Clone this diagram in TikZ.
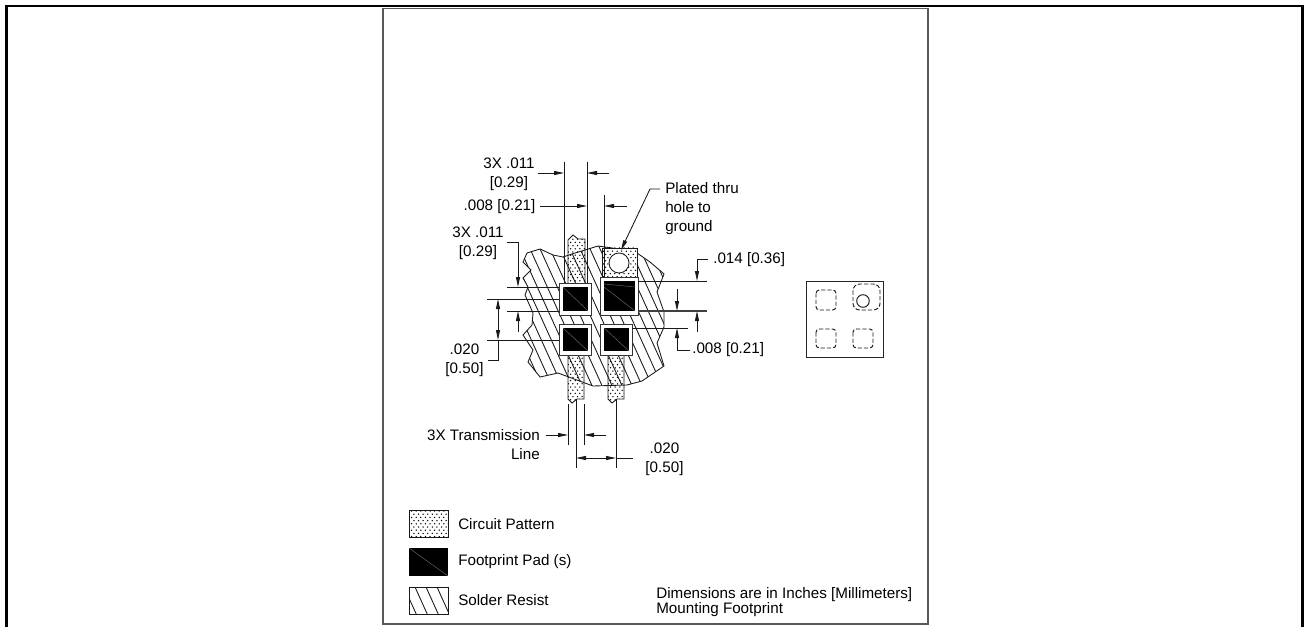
\documentclass[tikz,border=0pt]{standalone}
\usepackage{fontspec}
\setmainfont{Liberation Sans}
\usetikzlibrary{arrows.meta}

\tikzset{
    >={Stealth[length=7.5pt,width=3pt,inset=0pt]},
    dimline/.style={line width=0.65pt, draw=black!90},
    dimtext/.style={inner sep=0pt, font=\fontsize{11.4}{14.25}\selectfont},
    padbox/.style={draw=black!80, line width=0.65pt, fill=white},
    padfill/.style={fill=black},
    padslash/.style={draw=black!55, line width=0.3pt},
    hiddenpad/.style={draw=black!90, line width=0.7pt, dash pattern=on 3.2pt off 1.5pt, rounded corners=2.5pt},
    outline/.style={draw=black!90, line width=0.65pt}
}

% stipple: first dot x, first dot y, columns, rows
\newcommand{\stipple}[4]{
    \foreach \i in {0,...,#3} \foreach \j in {0,...,#4}
        \fill[black] ({#1+\i*4.6+2.3*mod(\j,2)},{#2+\j*3.2}) circle (0.75);
}
\newcommand{\blobpath}{(527,253) -- (540,249) -- (553,255) -- (563,257) -- (575,253) -- (585,250) -- (598,246) -- (612,248) -- (637,253) -- (650,262) -- (664,274) -- (657,292) -- (664,312) -- (664,327) -- (657,343) -- (664,366) -- (642,381) -- (627,385) -- (593,386) -- (558,373) -- (540,377) -- (528,362) -- (533,350) -- (523,335) -- (532,325) -- (533,313) -- (525,295) -- (528,287) -- (523,278) -- (531,270) -- (523,262) -- cycle}

\begin{document}
\begin{tikzpicture}[x=0.75pt, y=-0.75pt]
    \useasboundingbox (0,0) rectangle (1309,627);

    % Frames
    \draw[line width=1.6pt, black] (6.5,627) -- (6.5,6) -- (1302.5,6) -- (1302.5,627);
    \draw[line width=0.8pt, draw=black!65] (383,624) rectangle (928,8.5);

    % Circuit pattern traces
    \begin{scope}
        \clip (568,240) -- (573,235) -- (578,239) -- (585,239) -- (585,283) -- (568,283) -- cycle;
        \stipple{566}{236}{4}{15}
    \end{scope}
    \begin{scope}
        \clip (568,355) -- (584,355) -- (584,399) -- (577,399) -- (572,403) -- (568,399) -- cycle;
        \stipple{566}{355}{4}{15}
    \end{scope}
    \begin{scope}
        \clip (608,355) -- (624,355) -- (624,399) -- (617,399) -- (612,403) -- (608,399) -- cycle;
        \stipple{606}{355}{4}{15}
    \end{scope}
    \draw[outline] (568,283) -- (568,240) -- (573,235) -- (578,239) -- (585,239) -- (585,283);
    \draw[outline] (568,355) -- (568,399) -- (572,403) -- (577,399) -- (584,399) -- (584,355);
    \draw[outline] (608,355) -- (608,399) -- (612,403) -- (617,399) -- (624,399) -- (624,355);

    % Solder resist
    \begin{scope}
        \clip \blobpath;
        \foreach \s in {436,446,...,670}
            \draw[outline] (\s,240) -- (\s+68,390);
    \end{scope}
    \draw[outline] \blobpath;

    % Plated thru hole
    \fill[white] (602,248) rectangle (637,277);
    \begin{scope}
        \clip (602,248) rectangle (637,277);
        \stipple{601}{248}{8}{9}
    \end{scope}
    \draw[outline] (602,277) -- (602,248) -- (637,248) -- (637,277);
    \draw[outline, fill=white] (619,263) circle (10);

    % Footprint pads
    \draw[padbox] (559.5,283) rectangle (591.5,315);
    \draw[padbox] (600.5,277) rectangle (638,315);
    \draw[padbox] (559.5,324) rectangle (591.5,355);
    \draw[padbox] (600.5,324) rectangle (632.5,355);
    \fill[padfill] (563,287) rectangle (588,311);
    \fill[padfill] (604,281) rectangle (635,311);
    \fill[padfill] (563,328) rectangle (588,351);
    \fill[padfill] (604,328) rectangle (629,351);
    \draw[padslash] (563,287) -- (588,311);
    \draw[padslash] (604,287) -- (635,311);
    \draw[padslash] (604,284) -- (635,287);
    \draw[padslash] (563,328) -- (588,351);
    \draw[padslash] (604,328) -- (629,351);

    % Extension lines
    \draw[dimline] (564,162) -- (564,283);
    \draw[dimline] (587,162) -- (587,283);
    \draw[dimline] (604,195) -- (604,277);
    \draw[dimline] (507,287) -- (559,287);
    \draw[dimline] (487,299) -- (559,299);
    \draw[dimline] (507,311) -- (559,311);
    \draw[dimline] (487,340) -- (559,340);
    \draw[dimline] (638,281) -- (707,281);
    \draw[line width=0.8pt, draw=black!75] (638,311) -- (707,311);
    \draw[dimline] (632,328) -- (688,328);
    \draw[dimline] (568,404) -- (568,445);
    \draw[dimline] (584,404) -- (584,445);
    \draw[dimline] (576,399) -- (576,468);
    \draw[dimline] (616,399) -- (616,468);

    % Dimensions, top
    \node[dimtext, align=center] (widthtop) at (509,174) {3X .011\\{[0.29]}};
    \draw[dimline, ->] (538,173) -- (564,173);
    \draw[dimline, ->] (609,173) -- (587,173);
    \node[dimtext] (gaptop) at (499.5,206.5) {.008 [0.21]};
    \draw[dimline, ->] (540,206) -- (587,206);
    \draw[dimline, ->] (627,206) -- (604,206);
    \node[dimtext, align=center] (widthleft) at (478,243.5) {3X .011\\{[0.29]}};
    \draw[dimline, ->] (507,242) -- (518,242) -- (518,287);

    % Dimensions, left
    \draw[dimline, <->] (498,299) -- (498,340);
    \draw[dimline] (498,340) -- (498,360) -- (488,360);
    \node[dimtext, align=center] (pitchleft) at (464.5,360.5) {.020\\{[0.50]}};
    \draw[dimline, ->] (518,332) -- (518,311);

    % Dimensions, right
    \node[dimtext, anchor=west] (paddepth) at (713,260) {.014 [0.36]};
    \draw[dimline, ->] (708,259) -- (697,259) -- (697,281);
    \draw[dimline, ->] (677,289) -- (677,311);
    \draw[dimline, ->] (697,332) -- (697,311);
    \draw[dimline, ->] (690,350) -- (677,350) -- (677,328);
    \node[dimtext, anchor=west] (padgap) at (692,350) {.008 [0.21]};

    % Plated thru note
    \node[dimtext, anchor=west, align=left] (holenote) at (665,209) {Plated thru\\hole to\\ground};
    \draw[dimline, ->] (660,189) -- (650,189) -- (621,250);

    % Dimensions, bottom
    \node[dimtext, align=right, anchor=east] (linenote) at (540,445) {3X Transmission\\Line};
    \draw[dimline, ->] (546,435) -- (568,435);
    \draw[dimline, ->] (606,435) -- (584,435);
    \draw[dimline, <->] (576,458) -- (616,458);
    \draw[dimline] (616,458) -- (633,458);
    \node[dimtext, align=center] (pitchbottom) at (664.5,459.5) {.020\\{[0.50]}};

    % Package outline
    \draw[line width=0.6pt, draw=black!85] (806,281) rectangle (883,357);
    \draw[hiddenpad] (816,290) rectangle (836,310);
    \draw[hiddenpad, rounded corners=5pt] (853,284) rectangle (880,310);
    \draw[hiddenpad] (816,329) rectangle (836,348);
    \draw[hiddenpad] (853,329) rectangle (873,348);
    \draw[line width=0.7pt, draw=black!90] (863,301) circle (6.3);

    % Legend
    \begin{scope}
        \clip (409,510) rectangle (448,537);
        \stipple{407}{511}{9}{8}
    \end{scope}
    \draw[outline] (409,510) rectangle (448,537);
    \node[dimtext, anchor=west] (legendcircuit) at (458,524) {Circuit Pattern};
    \fill[padfill] (409,548) rectangle (448,576);
    \draw[padslash] (409,548) -- (448,576);
    \node[dimtext, anchor=west] (legendpad) at (458,562) {Footprint Pad (s)};
    \begin{scope}
        \clip (409,587) rectangle (448,614);
        \foreach \s in {382,393,...,448}
            \draw[outline] (\s,587) -- (\s+12.2,614);
    \end{scope}
    \draw[outline] (409,587) rectangle (448,614);
    \node[dimtext, anchor=west] (legendresist) at (458,600) {Solder Resist};

    % Notes
    \node[dimtext, anchor=west, align=left] (notes) at (656,602) {Dimensions are in Inches [Millimeters]\\[-3.4pt]Mounting Footprint};
\end{tikzpicture}
\end{document}
